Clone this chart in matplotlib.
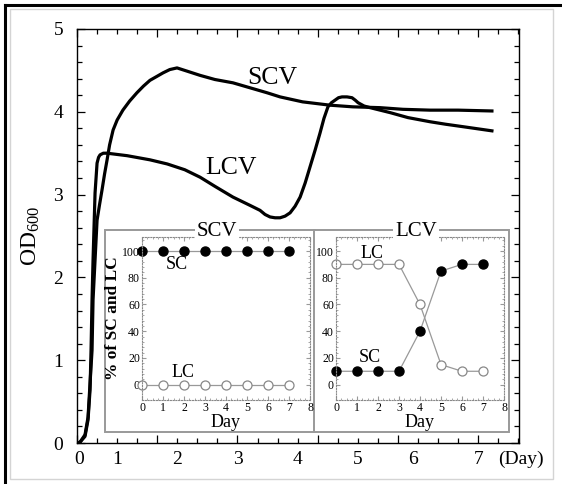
import numpy as np
import matplotlib
matplotlib.use('Agg')
import matplotlib.pyplot as plt
from matplotlib.patches import Rectangle
from matplotlib.lines import Line2D

plt.rcParams['font.family'] = 'Liberation Serif'
plt.rcParams['mathtext.fontset'] = 'custom'
plt.rcParams['mathtext.rm'] = 'Liberation Serif'
plt.rcParams['mathtext.it'] = 'Liberation Serif:italic'

# growth curves, time in hours
scv_t = [0, 1.2, 3.2, 4.4, 5.2, 6.0, 6.4, 7.2, 8.0, 9.0, 10.0, 11.0, 12.0, 13.0, 14.4,
         16.0, 18.3, 21.0, 23.9, 26.5, 29.1, 32.0, 34.3, 37.0, 39.9, 44.0, 49.1, 55.0,
         62.2, 69.0, 75.8, 81.0, 90.0, 100.9, 110.0, 120.9, 130.0, 140.8, 152.0, 165.5]
scv_od = [0, 0.01, 0.10, 0.31, 0.72, 1.12, 1.73, 2.21, 2.69, 2.88, 3.06, 3.25, 3.42, 3.60, 3.78,
          3.90, 4.02, 4.13, 4.23, 4.31, 4.38, 4.43, 4.47, 4.51, 4.53, 4.49, 4.44, 4.39,
          4.35, 4.29, 4.23, 4.18, 4.12, 4.08, 4.06, 4.05, 4.03, 4.02, 4.02, 4.01]
lcv_t = [0, 1.2, 3.2, 4.4, 5.2, 5.6, 6.0, 6.4, 7.2, 8.0, 8.6, 9.2, 10.5, 12.0, 20.0, 29.1,
         36.0, 43.0, 49.1, 55.0, 62.2, 69.0, 73.0, 75.0, 77.0, 79.0, 81.0, 83.0, 85.0,
         87.0, 89.0, 91.0, 92.9, 95.0, 96.9, 98.5, 100.1, 101.5, 102.9, 104.3, 105.7,
         107.7, 109.7, 111.0, 112.1, 114.5, 116.9, 124.9, 132.0, 140.8, 147.0, 154.0, 165.5]
lcv_od = [0, 0.01, 0.08, 0.28, 0.64, 1.12, 1.73, 2.21, 3.02, 3.38, 3.45, 3.48, 3.50, 3.50, 3.47, 3.42,
          3.37, 3.30, 3.21, 3.10, 2.97, 2.87, 2.81, 2.76, 2.73, 2.72, 2.72, 2.74, 2.78,
          2.86, 2.97, 3.14, 3.33, 3.54, 3.74, 3.92, 4.06, 4.11, 4.14, 4.17, 4.18,
          4.18, 4.17, 4.14, 4.11, 4.07, 4.05, 3.99, 3.93, 3.88, 3.85, 3.82, 3.77]
day_labels = ['0', '1', '2', '3', '4', '5', '6', '7']
label_hours = [1, 16, 40, 64, 88, 112, 134, 160]

# inset data (% of colonies)
days = [0, 1, 2, 3, 4, 5, 6, 7]
scv_sc = [100, 100, 100, 100, 100, 100, 100, 100]
scv_lc = [0, 0, 0, 0, 0, 0, 0, 0]
lcv_sc = [10, 10, 10, 10, 40, 85, 90, 90]
lcv_lc = [90, 90, 90, 90, 60, 15, 10, 10]

W, H = 562, 484
fig = plt.figure(figsize=(5.62, 4.84), dpi=100)

def fx(px):
    return px / W

def fy(py):
    return 1 - py / H

# page frame
fig.add_artist(Rectangle((fx(10), fy(479)), fx(543), 470 / H, fill=False,
                         edgecolor='#d4d4d4', lw=1.0))
fig.add_artist(Line2D([fx(5), 1], [fy(5), fy(5)], color='black', lw=2.2))
fig.add_artist(Line2D([fx(5), fx(5)], [fy(5), 0], color='black', lw=2.2))

ax = fig.add_axes([fx(77), fy(443), fx(519 - 77), (443 - 29) / H])
ax.plot(scv_t, scv_od, color='black', lw=2.3, solid_joinstyle='round')
ax.plot(lcv_t, lcv_od, color='black', lw=2.3, solid_joinstyle='round')
ax.set_xlim(0, 176.3)
ax.set_ylim(0, 5)
ax.set_xticks(np.arange(0, 177, 32))
ax.set_xticks(np.arange(0, 177, 8), minor=True)
ax.set_yticks([0, 1, 2, 3, 4, 5])
ax.set_yticks(np.arange(0, 5.01, 0.2), minor=True)
ax.tick_params(which='both', direction='in', top=True, right=True, width=0.9)
ax.tick_params(which='major', length=6)
ax.tick_params(which='minor', length=3.5)
ax.tick_params(axis='x', labelbottom=False)
ax.tick_params(axis='y', labelsize=14, pad=10)
for s in ax.spines.values():
    s.set_linewidth(1.0)
ax.set_ylabel(r'OD$_{600}$', fontsize=17, labelpad=8)

sec = ax.secondary_xaxis('bottom')
sec.set_xticks(label_hours, day_labels)
sec.tick_params(length=0, labelsize=14, pad=6)
sec.spines['bottom'].set_visible(False)

ax.text(77.8, 4.41, 'SCV', fontsize=18.5, ha='center', va='center')
ax.text(61.4, 3.32, 'LCV', fontsize=18.5, ha='center', va='center')
fig.text(fx(521), fy(459), '(Day)', fontsize=14, ha='center', va='center')

# inset boxes
for x0, x1, xt, name in [(105, 315, 217, 'SCV'), (314, 509, 416, 'LCV')]:
    fig.add_artist(Rectangle((fx(x0), fy(432)), fx(x1 - x0), (432 - 230) / H,
                             facecolor='white', edgecolor='#999999', lw=1.4, zorder=1))
    fig.text(fx(xt), fy(231), name, fontsize=15, ha='center', va='center', zorder=4,
             bbox=dict(facecolor='white', edgecolor='none', pad=1.5))

def inset(left, sc, lc, ylabel):
    a = fig.add_axes([fx(left), fy(400), fx(168), 163 / H])
    a.set_zorder(2)
    a.plot(days, lc, color='#999999', lw=0.9, marker='o', ms=6.5,
           markerfacecolor='white', markeredgecolor='#888888', markeredgewidth=0.9,
           clip_on=False)
    a.plot(days, sc, color='#999999', lw=0.9, marker='o', ms=6.5,
           markerfacecolor='black', markeredgecolor='black', clip_on=False)
    a.set_xlim(0, 8)
    a.set_ylim(-11.5, 110.5)
    a.set_xticks(range(9))
    a.set_xticks(np.arange(0, 8.01, 0.25), minor=True)
    a.set_yticks(range(0, 101, 20))
    a.set_yticks(range(0, 111, 4), minor=True)
    a.tick_params(which='both', direction='in', top=True, right=True,
                  color='#999999', labelsize=8.5, pad=1.5)
    a.tick_params(which='major', length=3)
    a.tick_params(which='minor', length=1.5)
    for s in a.spines.values():
        s.set_linestyle((0, (1, 1.5)))
        s.set_color('#888888')
        s.set_linewidth(0.8)
    a.set_xlabel('Day', fontsize=13, labelpad=0)
    if ylabel:
        a.set_ylabel('% of SC and LC', fontsize=12.5, fontweight='bold', labelpad=1)
    return a

a1 = inset(142, scv_sc, scv_lc, True)
a1.text(1.67, 90, 'SC', fontsize=13, ha='center', va='center')
a1.text(1.95, 9, 'LC', fontsize=13, ha='center', va='center')

a2 = inset(336, lcv_sc, lcv_lc, False)
a2.text(1.72, 98, 'LC', fontsize=13, ha='center', va='center')
a2.text(1.63, 20, 'SC', fontsize=13, ha='center', va='center')

plt.savefig('out.png', dpi=100)
